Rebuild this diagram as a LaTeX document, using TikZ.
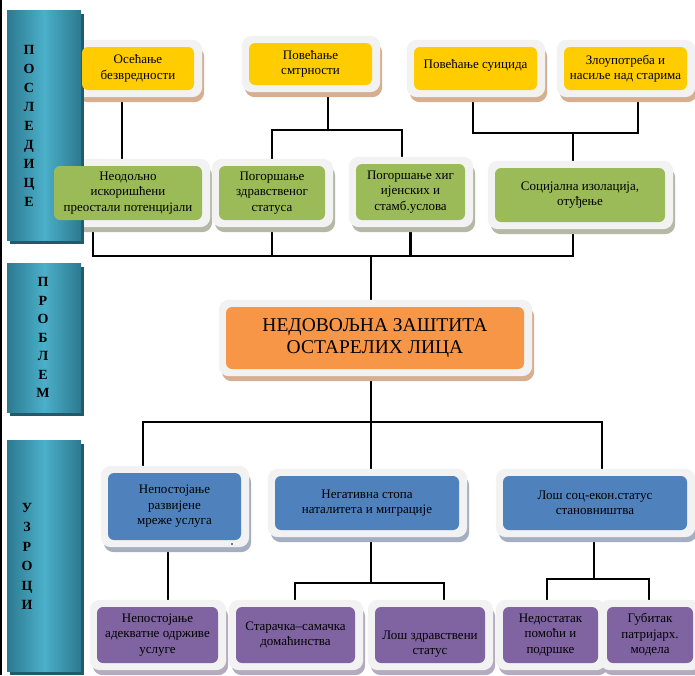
\documentclass[tikz,border=0pt]{standalone}
\usepackage{fontspec}
\setmainfont{Liberation Serif}
\usetikzlibrary{calc}
\definecolor{yel}{HTML}{FFCC00}
\definecolor{grn}{HTML}{9BBB59}
\definecolor{org}{HTML}{F79646}
\definecolor{blu}{HTML}{4F81BD}
\definecolor{pur}{HTML}{8064A2}
\definecolor{outerc}{HTML}{F2F2F2}
\definecolor{shbrown}{HTML}{D6AE90}
\definecolor{shgreen}{HTML}{B4B8A4}
\definecolor{shblue}{HTML}{A6AFC2}
\definecolor{shpur}{HTML}{B4ACBE}
\definecolor{tealA}{HTML}{2C7A90}
\definecolor{tealB}{HTML}{4BAFC9}
\definecolor{tealsh}{HTML}{215A6B}
\pgfdeclarelayer{bg}
\pgfdeclarelayer{lines}
\pgfdeclarelayer{boxes}
\pgfsetlayers{bg,lines,boxes,main}
\newcommand\boxdeco[2]{%
  \begin{pgfonlayer}{boxes}
    \fill[#2,rounded corners=10pt] ([shift={(-4pt,0pt)}]#1.north west) rectangle ([shift={(10pt,-12pt)}]#1.south east);
    \fill[outerc,rounded corners=10pt] ([shift={(-7pt,7pt)}]#1.north west) rectangle ([shift={(8pt,-7pt)}]#1.south east);
  \end{pgfonlayer}}
\tikzset{
  cbox/.style={rounded corners=6pt, inner sep=0pt, align=center, text=black,
    font=\fontsize{13}{15.5}\selectfont},
  ybox/.style={cbox, fill=yel},
  gbox/.style={cbox, fill=grn},
  obox/.style={cbox, fill=org, font=\fontsize{19.5}{22}\selectfont},
  bbox/.style={cbox, fill=blu},
  pbox/.style={cbox, fill=pur},
  conn/.style={draw=black, line width=2.4pt},
  sidelbl/.style={align=center, inner sep=0pt, text=black},
}
\begin{document}
\begin{tikzpicture}[x=1pt,y=-1pt]
\useasboundingbox (0,0) rectangle (695,675);
\begin{pgfonlayer}{bg}
\fill[white] (0,0) rectangle (695,675);
\end{pgfonlayer}
\draw[black, line width=1.5pt] (1,0) -- (1,675);

% side bars
\fill[tealsh] (10,14) rectangle (84,244);
\shade[left color=tealA, right color=tealA, middle color=tealB] (7,10) rectangle (81,240);
\node[sidelbl, font=\fontsize{14}{19}\bfseries\selectfont] (L1) at (29,126) {П\\О\\С\\Л\\Е\\Д\\И\\Ц\\Е};
\fill[tealsh] (10,267) rectangle (84,416);
\shade[left color=tealA, right color=tealA, middle color=tealB] (7,263) rectangle (81,412);
\node[sidelbl, font=\fontsize{14}{18.5}\bfseries\selectfont] (L2) at (43,337.5) {П\\Р\\О\\Б\\Л\\Е\\М};
\fill[tealsh] (10,444) rectangle (84,675);
\shade[left color=tealA, right color=tealA, middle color=tealB] (7,440) rectangle (81,671);
\node[sidelbl, font=\fontsize{14}{19.4}\bfseries\selectfont] (L3) at (27,556.5) {У\\З\\Р\\О\\Ц\\И};

% yellow
\node[ybox, minimum width=112pt, minimum height=43pt] (Y1) at (138,68.5) {Осећање\\безвредности};
\node[ybox, minimum width=123pt, minimum height=42pt] (Y2) at (310.5,64) {Повећање\\смтрности};
\node[ybox, minimum width=123pt, minimum height=43pt] (Y3) at (475.5,68.5) {Повећање суицида\rule[-10pt]{0pt}{10pt}};
\node[ybox, minimum width=123pt, minimum height=43pt] (Y4) at (625.5,68.5) {Злоупотреба и\\насиље над старима};
% green
\node[gbox, minimum width=148pt, minimum height=54pt] (G1) at (128,193) {Неодољно\\искоришћени\\преостали потенцијали};
\node[gbox, minimum width=106pt, minimum height=54pt] (G2) at (272,193) {Погоршање\\здравственог\\статуса};
\node[gbox, minimum width=109pt, minimum height=56pt] (G3) at (410.5,192) {Погоршање хиг\\ијенских и\\стамб.услова};
\node[gbox, minimum width=170pt, minimum height=54pt] (G4) at (580,195) {Социјална изолација,\\отуђење};
% orange
\node[obox, minimum width=298pt, minimum height=62pt] (O) at (375,338) {НЕДОВОЉНА ЗАШТИТА\\ОСТАРЕЛИХ ЛИЦА};
% blue
\node[bbox, minimum width=133pt, minimum height=67pt] (B1) at (174.5,506.5) {Непостојање\\развијене\\мреже услуга};
\node[bbox, minimum width=184pt, minimum height=54pt] (B2) at (367,503) {Негативна стопа\\наталитета и миграције};
\node[bbox, minimum width=184pt, minimum height=54pt] (B3) at (595,503) {Лош соц-екон.статус\\становништва};
\fill[black] (232,544) circle (0.9pt);
% purple
\node[pbox, minimum width=121pt, minimum height=56pt] (P1) at (157.5,635) {Непостојање\\адекватне одрживе\\услуге};
\node[pbox, minimum width=119pt, minimum height=56pt] (P2) at (295.5,635) {Старачка–самачка\\домаћинства};
\node[pbox, minimum width=110pt, minimum height=56pt] (P3) at (430,635) {\rule{0pt}{27pt}Лош здравствени\\статус};
\node[pbox, minimum width=95pt, minimum height=56pt] (P4) at (550.5,635) {Недостатак\\помоћи и\\подршке};
\node[pbox, minimum width=86pt, minimum height=56pt] (P5) at (650,635) {Губитак\\патријарх.\\модела};

\boxdeco{Y1}{shbrown}\boxdeco{Y2}{shbrown}\boxdeco{Y3}{shbrown}\boxdeco{Y4}{shbrown}
\boxdeco{G1}{shgreen}\boxdeco{G2}{shgreen}\boxdeco{G3}{shgreen}\boxdeco{G4}{shgreen}
\boxdeco{O}{shbrown}
\boxdeco{B1}{shblue}\boxdeco{B2}{shblue}\boxdeco{B3}{shblue}
\boxdeco{P1}{shpur}\boxdeco{P2}{shpur}\boxdeco{P3}{shpur}\boxdeco{P4}{shpur}\boxdeco{P5}{shpur}

\begin{pgfonlayer}{lines}
\coordinate (k2) at (328,130);
\coordinate (k3) at (573,133);
\coordinate (k4) at (371,256);
\coordinate (k5) at (371,422);
\coordinate (k6) at (371,583);
\coordinate (k7) at (594,579);
\draw[conn] ([xshift=-16pt]Y1.south) -- ([xshift=-6pt]G1.north);
\draw[conn] ([xshift=17.5pt]Y2.south) -- (k2);
\draw[conn] (G2.north) |- ([xshift=-8.5pt]G3.north |- k2) -- ([xshift=-8.5pt]G3.north);
\draw[conn] ([xshift=-2.5pt]Y3.south) |- ([xshift=12.5pt]Y4.south |- k3) -- ([xshift=12.5pt]Y4.south);
\draw[conn] (k3) -- ([xshift=-7pt]G4.north);
\draw[conn] ([xshift=-35pt]G1.south) |- ([xshift=-7pt]G4.south |- k4) -- ([xshift=-7pt]G4.south);
\draw[conn] (G2.south) -- (G2.south |- k4);
\draw[conn] (G3.south) -- (G3.south |- k4);
\draw[conn] (k4) -- ([xshift=-4pt]O.north);
\draw[conn] ([xshift=-4pt]O.south) -- (k5);
\draw[conn] ([xshift=-31.5pt]B1.north) |- ([xshift=7pt]B3.north |- k5) -- ([xshift=7pt]B3.north);
\draw[conn] (k5) -- ([xshift=4pt]B2.north);
\draw[conn] ([xshift=-6.5pt]B1.south) -- ([xshift=10.5pt]P1.north);
\draw[conn] ([xshift=4pt]B2.south) -- (k6);
\draw[conn] ([xshift=-0.5pt]P2.north) |- ([xshift=14pt]P3.north |- k6) -- ([xshift=14pt]P3.north);
\draw[conn] ([xshift=-1pt]B3.south) -- (k7);
\draw[conn] ([xshift=-3.5pt]P4.north) |- ([xshift=-1pt]P5.north |- k7) -- ([xshift=-1pt]P5.north);
\end{pgfonlayer}
\end{tikzpicture}
\end{document}
